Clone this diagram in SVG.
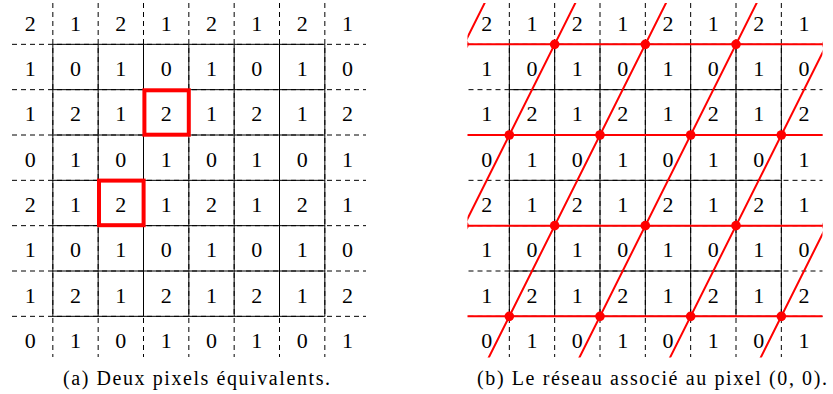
<svg xmlns="http://www.w3.org/2000/svg" width="833" height="394" viewBox="0 0 833 394">
<style>
.dash{stroke:#000;stroke-width:1;stroke-dasharray:5 4;fill:none}
.solid{stroke:#000;stroke-width:1;fill:none}
.n{font-family:'Liberation Serif','DejaVu Serif',serif;font-size:22px;text-anchor:middle;fill:#000}
.cap{font-family:'Liberation Serif','DejaVu Serif',serif;font-size:20px;fill:#000}
.hl{stroke:#ff0000;stroke-width:4;fill:none}
.rl{stroke:#ff0000;stroke-width:2;fill:none}
.dot{fill:#ff0000}
</style>
<defs>
<clipPath id="clipR"><rect x="467.5" y="3" width="355" height="354.5"/></clipPath>
<g id="gridlines">
<path class="dash" d="M52.83,3V357M98.17,3V357M143.5,3V357M188.83,3V357M234.17,3V357M279.5,3V357M324.83,3V357"/>
<path class="dash" d="M12,44.33H366M12,89.67H366M12,135H366M12,180.33H366M12,225.67H366M12,271H366M12,316.33H366"/>
<path class="solid" d="M52.83,44.33V316.33M98.17,44.33V316.33M143.5,44.33V316.33M188.83,44.33V316.33M234.17,44.33V316.33M279.5,44.33V316.33M324.83,44.33V316.33"/>
<path class="solid" d="M52.83,44.33H324.83M52.83,89.67H324.83M52.83,135H324.83M52.83,180.33H324.83M52.83,225.67H324.83M52.83,271H324.83M52.83,316.33H324.83"/>
</g>
<g id="digits">
<text class="n" x="30.17" y="30.5">2</text><text class="n" x="75.5" y="30.5">1</text><text class="n" x="120.83" y="30.5">2</text><text class="n" x="166.17" y="30.5">1</text><text class="n" x="211.5" y="30.5">2</text><text class="n" x="256.83" y="30.5">1</text><text class="n" x="302.17" y="30.5">2</text><text class="n" x="347.5" y="30.5">1</text>
<text class="n" x="30.17" y="75.83">1</text><text class="n" x="75.5" y="75.83">0</text><text class="n" x="120.83" y="75.83">1</text><text class="n" x="166.17" y="75.83">0</text><text class="n" x="211.5" y="75.83">1</text><text class="n" x="256.83" y="75.83">0</text><text class="n" x="302.17" y="75.83">1</text><text class="n" x="347.5" y="75.83">0</text>
<text class="n" x="30.17" y="121.17">1</text><text class="n" x="75.5" y="121.17">2</text><text class="n" x="120.83" y="121.17">1</text><text class="n" x="166.17" y="121.17">2</text><text class="n" x="211.5" y="121.17">1</text><text class="n" x="256.83" y="121.17">2</text><text class="n" x="302.17" y="121.17">1</text><text class="n" x="347.5" y="121.17">2</text>
<text class="n" x="30.17" y="166.5">0</text><text class="n" x="75.5" y="166.5">1</text><text class="n" x="120.83" y="166.5">0</text><text class="n" x="166.17" y="166.5">1</text><text class="n" x="211.5" y="166.5">0</text><text class="n" x="256.83" y="166.5">1</text><text class="n" x="302.17" y="166.5">0</text><text class="n" x="347.5" y="166.5">1</text>
<text class="n" x="30.17" y="211.83">2</text><text class="n" x="75.5" y="211.83">1</text><text class="n" x="120.83" y="211.83">2</text><text class="n" x="166.17" y="211.83">1</text><text class="n" x="211.5" y="211.83">2</text><text class="n" x="256.83" y="211.83">1</text><text class="n" x="302.17" y="211.83">2</text><text class="n" x="347.5" y="211.83">1</text>
<text class="n" x="30.17" y="257.17">1</text><text class="n" x="75.5" y="257.17">0</text><text class="n" x="120.83" y="257.17">1</text><text class="n" x="166.17" y="257.17">0</text><text class="n" x="211.5" y="257.17">1</text><text class="n" x="256.83" y="257.17">0</text><text class="n" x="302.17" y="257.17">1</text><text class="n" x="347.5" y="257.17">0</text>
<text class="n" x="30.17" y="302.5">1</text><text class="n" x="75.5" y="302.5">2</text><text class="n" x="120.83" y="302.5">1</text><text class="n" x="166.17" y="302.5">2</text><text class="n" x="211.5" y="302.5">1</text><text class="n" x="256.83" y="302.5">2</text><text class="n" x="302.17" y="302.5">1</text><text class="n" x="347.5" y="302.5">2</text>
<text class="n" x="30.17" y="347.83">0</text><text class="n" x="75.5" y="347.83">1</text><text class="n" x="120.83" y="347.83">0</text><text class="n" x="166.17" y="347.83">1</text><text class="n" x="211.5" y="347.83">0</text><text class="n" x="256.83" y="347.83">1</text><text class="n" x="302.17" y="347.83">0</text><text class="n" x="347.5" y="347.83">1</text>
</g>
</defs>
<g id="gridA">
<use href="#gridlines"/>
<use href="#digits"/>
</g>
<g id="pixel1"><rect class="hl" x="144.4" y="90.3" width="44.4" height="44.4"/></g>
<g id="pixel2"><rect class="hl" x="99" y="180.6" width="44.6" height="44.6"/></g>
<g id="captionA"><text class="cap" x="63" y="385" textLength="267" lengthAdjust="spacing">(a) Deux pixels équivalents.</text></g>
<g id="gridB" transform="translate(456.5,0)">
<use href="#gridlines"/>
<use href="#digits"/>
</g>
<g id="lattice" clip-path="url(#clipR)">
<g id="connectors">
<path class="rl" d="M464,44.33H827M464,135H827M464,225.67H827M464,316.33H827"/>
<path class="rl" d="M509.33,-46.33L282.67,407M600,-46.33L373.33,407M690.67,-46.33L464,407M781.33,-46.33L554.67,407M872,-46.33L645.33,407M962.67,-46.33L736,407"/>
</g>
<g id="points">
<circle class="dot" cx="464" cy="44.33" r="4.8"/><circle class="dot" cx="554.67" cy="44.33" r="4.8"/><circle class="dot" cx="645.33" cy="44.33" r="4.8"/><circle class="dot" cx="736" cy="44.33" r="4.8"/><circle class="dot" cx="826.67" cy="44.33" r="4.8"/>
<circle class="dot" cx="509.33" cy="135" r="4.8"/><circle class="dot" cx="600" cy="135" r="4.8"/><circle class="dot" cx="690.67" cy="135" r="4.8"/><circle class="dot" cx="781.33" cy="135" r="4.8"/>
<circle class="dot" cx="464" cy="225.67" r="4.8"/><circle class="dot" cx="554.67" cy="225.67" r="4.8"/><circle class="dot" cx="645.33" cy="225.67" r="4.8"/><circle class="dot" cx="736" cy="225.67" r="4.8"/><circle class="dot" cx="826.67" cy="225.67" r="4.8"/>
<circle class="dot" cx="509.33" cy="316.33" r="4.8"/><circle class="dot" cx="600" cy="316.33" r="4.8"/><circle class="dot" cx="690.67" cy="316.33" r="4.8"/><circle class="dot" cx="781.33" cy="316.33" r="4.8"/>
</g>
</g>
<g id="captionB"><text class="cap" x="477" y="385" textLength="350" lengthAdjust="spacing">(b) Le réseau associé au pixel (0, 0).</text></g>
</svg>
